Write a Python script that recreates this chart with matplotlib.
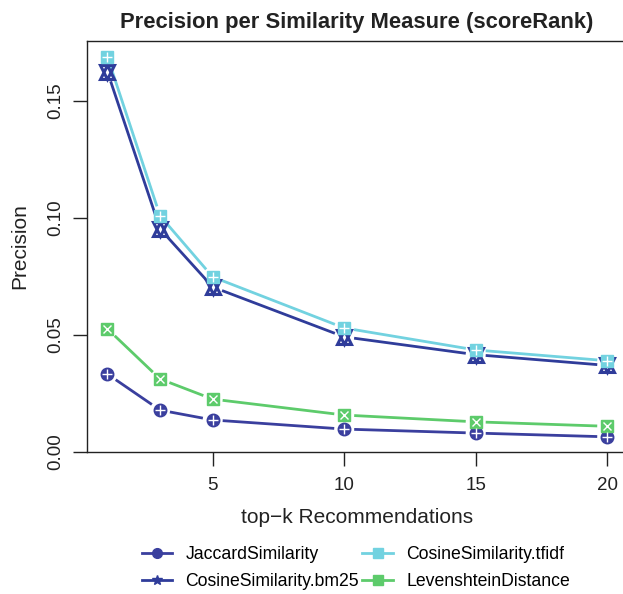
import matplotlib
matplotlib.use("Agg")
import matplotlib.pyplot as plt
import numpy as np
from matplotlib.lines import Line2D

plt.rcParams["font.family"] = ["Liberation Sans", "DejaVu Sans"]

# Data
top_k = [1, 3, 5, 10, 15, 20]
jaccard = [0.0333, 0.0179, 0.0137, 0.0098, 0.0081, 0.0065]
cosine_bm25 = [0.1624, 0.0953, 0.0705, 0.0492, 0.0416, 0.0370]
cosine_tfidf = [0.1688, 0.1009, 0.0748, 0.0530, 0.0436, 0.0390]
levenshtein = [0.0526, 0.0312, 0.0226, 0.0158, 0.0129, 0.0110]

names = ["JaccardSimilarity", "CosineSimilarity.bm25",
         "CosineSimilarity.tfidf", "LevenshteinDistance"]
colors = ["#3A3F9E", "#2F3C9A", "#72D2E0", "#5DCB6B"]


def draw_gapped_line(ax, xs, ys, color, gap=10):
    # R type="b": segments stop short of each point
    pts = ax.transData.transform(np.column_stack([xs, ys]))
    inv = ax.transData.inverted()
    for p0, p1 in zip(pts[:-1], pts[1:]):
        d = p1 - p0
        n = np.hypot(*d)
        if n <= 2 * gap:
            continue
        u = d / n
        a = inv.transform(p0 + u * gap)
        b = inv.transform(p1 - u * gap)
        ax.plot([a[0], b[0]], [a[1], b[1]], color=color, lw=2.0,
                solid_capstyle="butt", zorder=2)


def draw_markers(ax, xs, ys, kind, color, ms=9):
    if kind == "circle":
        ax.plot(xs, ys, "o", ms=ms, color=color, zorder=3)
        ax.plot(xs, ys, "+", ms=ms * 0.75, color="white", mew=1.0, zorder=4)
    elif kind == "star":
        ax.plot(xs, ys, "^", ms=ms + 1, mfc="none", mec=color, mew=2.2, zorder=3)
        ax.plot(xs, ys, "v", ms=ms + 1, mfc="none", mec=color, mew=2.2, zorder=3)
    elif kind == "sqplus":
        ax.plot(xs, ys, "s", ms=ms, color=color, zorder=3)
        ax.plot(xs, ys, "+", ms=ms * 0.8, color="white", mew=1.0, zorder=4)
    elif kind == "sqx":
        ax.plot(xs, ys, "s", ms=ms, color=color, zorder=3)
        ax.plot(xs, ys, "x", ms=ms * 0.7, color="white", mew=1.0, zorder=4)


fig = plt.figure(figsize=(6.23, 5.94), dpi=100)
ax = fig.add_axes([0.1396, 0.239, 0.868, 0.692])
ax.set_xlim(0.22, 20.78)
ax.set_ylim(0, 0.1756)

series = [jaccard, cosine_bm25, cosine_tfidf, levenshtein]
kinds = ["circle", "star", "sqplus", "sqx"]

for ys, col in zip(series, colors):
    draw_gapped_line(ax, top_k, ys, col)
for ys, col, kind in zip(series, colors, kinds):
    draw_markers(ax, top_k, ys, kind, col)

for s in ax.spines.values():
    s.set_linewidth(1.0)
    s.set_color("#222222")

ax.set_xticks([5, 10, 15, 20])
ax.set_yticks([0.00, 0.05, 0.10, 0.15])
ax.set_yticklabels(["0.00", "0.05", "0.10", "0.15"], rotation=90, va="center")
ax.tick_params(axis="both", direction="out", length=10, width=1.0,
               labelsize=13.5, colors="#222222", labelcolor="#222222")
ax.tick_params(axis="x", pad=8)
ax.tick_params(axis="y", pad=6)

ax.set_xlabel("top\u2212k Recommendations", fontsize=15, labelpad=10, color="#222222")
ax.set_ylabel("Precision", fontsize=15, labelpad=13, color="#222222")
fig.text(0.572, 0.962, "Precision per Similarity Measure (scoreRank)",
         ha="center", va="center", fontsize=15.8, fontweight="bold", color="#222222")

# Legend handles built from the same marker styles
handles = []
for name, col, kind in zip(names, colors, kinds):
    m = {"circle": "o", "star": "*", "sqplus": "s", "sqx": "s"}[kind]
    handles.append(Line2D([0], [0], color=col, lw=2.0, marker=m, ms=7))
fig.legend(handles, names, ncol=2, loc="center", bbox_to_anchor=(0.571, 0.044),
           frameon=False, fontsize=12.7, handlelength=1.72, columnspacing=0.2,
           labelspacing=0.55, handletextpad=0.75)

fig.savefig("out.png", dpi=100)
